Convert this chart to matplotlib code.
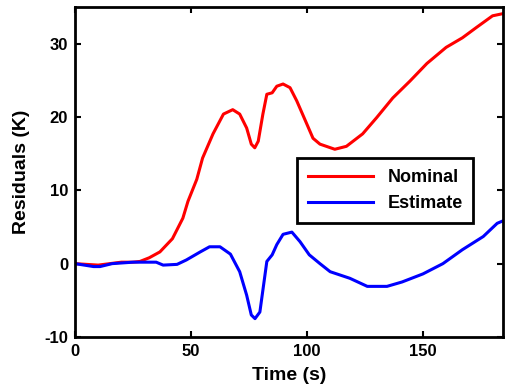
import matplotlib
matplotlib.use('Agg')
import matplotlib.pyplot as plt

plt.rcParams['font.family'] = ['Liberation Sans', 'DejaVu Sans']
plt.rcParams['font.weight'] = 'bold'
plt.rcParams['axes.unicode_minus'] = False

# Nominal residuals (red)
t_nom = [0, 10, 20, 25, 28, 32, 36.6, 42, 46.5, 48.7, 52.5, 55, 59.5, 64, 68, 71,
         74, 76, 77.5, 79, 81, 82.7, 85, 87, 89.7, 92.7, 95.6, 100, 102.6, 105.6,
         112, 117, 124, 130, 137, 144.4, 151.7, 160, 167, 173, 180, 184.5]
r_nom = [0, -0.2, 0.2, 0.2, 0.3, 0.8, 1.6, 3.4, 6.2, 8.5, 11.5, 14.4, 17.7, 20.4, 21.0, 20.4,
         18.5, 16.3, 15.8, 16.7, 20.4, 23.1, 23.3, 24.2, 24.5, 24.0, 22.2, 19.0, 17.1, 16.3,
         15.6, 16.0, 17.7, 19.9, 22.6, 24.9, 27.3, 29.5, 30.8, 32.2, 33.8, 34.1]

# Estimated residuals (blue)
t_est = [0, 8, 10.8, 16, 25, 35, 38, 44, 48, 54, 58, 62.5, 67, 71, 74, 76, 77.6,
         79.7, 82.7, 85, 87, 89.7, 93.5, 97, 101, 105.6, 110, 118.5, 126, 134.5,
         141, 150, 158.6, 167, 176, 182, 185]
r_est = [0, -0.4, -0.4, 0, 0.2, 0.2, -0.2, -0.1, 0.5, 1.6, 2.3, 2.3, 1.3, -1.1, -4.3, -7.0, -7.5,
         -6.6, 0.3, 1.2, 2.6, 4.0, 4.3, 3.0, 1.2, 0, -1.1, -2.0, -3.1, -3.1,
         -2.5, -1.4, 0, 1.9, 3.7, 5.5, 5.9]

xticks = [0, 50, 100, 150]
yticks = [-10, 0, 10, 20, 30]

fig = plt.figure(figsize=(5.05, 3.9), dpi=100)
ax = fig.add_axes([0.1485, 0.136, 0.8475, 0.846])

ax.plot(t_nom, r_nom, color='red', linewidth=2.2, label='Nominal')
ax.plot(t_est, r_est, color='blue', linewidth=2.2, label='Estimate')

ax.set_xlim(0, 184.5)
ax.set_ylim(-10, 35)
ax.set_xticks(xticks)
ax.set_yticks(yticks)
ax.tick_params(direction='in', top=True, right=True, labelsize=12, width=1.5, length=4, pad=5)
for s in ax.spines.values():
    s.set_linewidth(2)

ax.set_xlabel('Time (s)', fontsize=14, fontweight='bold', labelpad=6)
ax.set_ylabel('Residuals (K)', fontsize=14, fontweight='bold', labelpad=10)

leg = ax.legend(loc='upper left', bbox_to_anchor=(0.519, 0.542), fontsize=13,
                fancybox=False, edgecolor='black', framealpha=1, borderaxespad=0,
                handlelength=3.6, borderpad=0.6, labelspacing=0.5)
leg.get_frame().set_linewidth(2)
for h in leg.get_lines():
    h.set_linewidth(2.2)

plt.savefig('out.png', dpi=100)
